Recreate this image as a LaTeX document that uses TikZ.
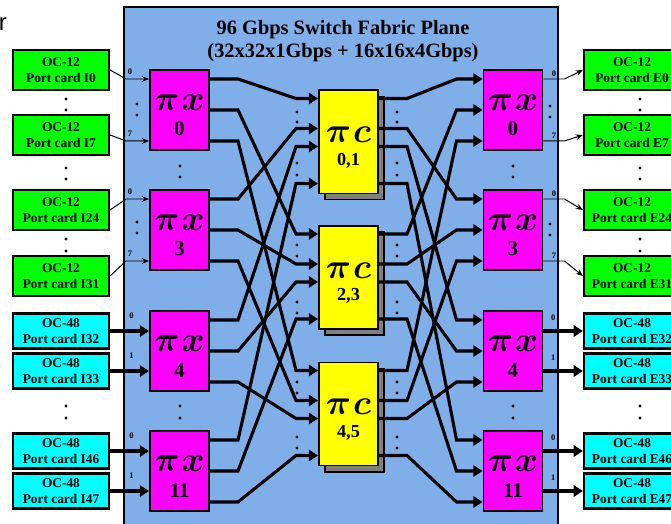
\documentclass[tikz,border=0pt]{standalone}
\usepackage{fontspec}
\setmainfont{Liberation Serif}
\newfontfamily\cutfont{Liberation Sans}
\usetikzlibrary{arrows.meta, calc, shadows}
\definecolor{planeblue}{RGB}{128,174,232}
\definecolor{cardgreen}{RGB}{0,255,0}
\definecolor{cardcyan}{RGB}{0,255,255}
\definecolor{xbarpink}{RGB}{255,0,255}
\definecolor{cbaryellow}{RGB}{255,255,0}
\definecolor{shadowgray}{RGB}{128,128,128}
\newcommand{\stagename}[1]{{\fontsize{24}{24}\selectfont\rule{0pt}{19pt}\boldmath$\pi\mkern1mu #1$}}

\begin{document}
\begin{tikzpicture}[
  x=0.025cm, y=-0.025cm,
  plane/.style={rectangle, draw=black, fill=planeblue, line width=1.4pt, minimum width=10.85cm, minimum height=13.4cm},
  card12/.style={rectangle, draw=black, fill=cardgreen, line width=1.6pt, minimum width=2.4cm, minimum height=1cm, inner sep=0pt, align=center, font=\bfseries\fontsize{9.5}{11.4}\selectfont},
  card48/.style={card12, fill=cardcyan, minimum height=0.875cm},
  xbar/.style={rectangle, draw=black, fill=xbarpink, line width=1.4pt, minimum width=1.475cm, minimum height=2cm, inner sep=0pt, align=center, font=\bfseries\fontsize{15}{18}\selectfont},
  cbar/.style={rectangle, draw=black, fill=cbaryellow, line width=1.4pt, minimum width=1.475cm, minimum height=2.575cm, inner sep=0pt, align=center, font=\bfseries\fontsize{13}{16}\selectfont,
    general shadow={fill=shadowgray, draw=black, line width=1.4pt, shadow xshift=0.15cm, shadow yshift=-0.15cm}},
  wire/.style={line width=2.2pt, -{Triangle[length=6.5pt, width=8pt]}},
  thin_arrow/.style={line width=0.7pt, -{Stealth[length=5pt, width=4pt]}},
  lbl/.style={font=\bfseries\fontsize{6}{6}\selectfont, inner sep=0pt}
]
\useasboundingbox (0,0) rectangle (671,524);
\clip (0,0) rectangle (671,524);

% Plane
\node (plane) [plane] at (341,275) {};
\node (title) [font=\bfseries\fontsize{14.5}{16.4}\selectfont, align=center] at (343,41) {96 Gbps Switch Fabric Plane\\(32x32x1Gbps + 16x16x4Gbps)};
\node (cut) [font=\cutfont\fontsize{17}{17}\selectfont, anchor=base west, inner sep=0pt] at (-1.5,31) {r};

% Ingress port cards
\node (i0) [card12] at (61,70) {OC-12\\Port card I0};
\node (i7) [card12] at (61,135) {OC-12\\Port card I7};
\node (i24) [card12] at (61,210) {OC-12\\Port card I24};
\node (i31) [card12] at (61,276) {OC-12\\Port card I31};
\node (i32) [card48] at (61,331) {OC-48\\Port card I32};
\node (i33) [card48] at (61,371) {OC-48\\Port card I33};
\node (i46) [card48] at (61,451) {OC-48\\Port card I46};
\node (i47) [card48] at (61,491) {OC-48\\Port card I47};

% Egress port cards
\node (e0) [card12] at (632,70) {OC-12\\Port card E0};
\node (e7) [card12] at (632,135) {OC-12\\Port card E7};
\node (e24) [card12] at (632,210) {OC-12\\Port card E24};
\node (e31) [card12] at (632,276) {OC-12\\Port card E31};
\node (e32) [card48] at (632,331) {OC-48\\Port card E32};
\node (e33) [card48] at (632,371) {OC-48\\Port card E33};
\node (e46) [card48] at (632,451) {OC-48\\Port card E46};
\node (e47) [card48] at (632,491) {OC-48\\Port card E47};

% Crossbars
\node (lx0) [xbar] at (179.5,110) {\stagename{x}\\0};
\node (lx3) [xbar] at (179.5,230) {\stagename{x}\\3};
\node (lx4) [xbar] at (179.5,351) {\stagename{x}\\4};
\node (lx11) [xbar] at (179.5,471) {\stagename{x}\\11};
\node (rx0) [xbar] at (513,110) {\stagename{x}\\0};
\node (rx3) [xbar] at (513,230) {\stagename{x}\\3};
\node (rx4) [xbar] at (513,351) {\stagename{x}\\4};
\node (rx11) [xbar] at (513,471) {\stagename{x}\\11};

% Center stage
\node (c01) [cbar] at (348.5,142) {\stagename{c}\\0,1};
\node (c23) [cbar] at (348.5,277.5) {\stagename{c}\\2,3};
\node (c45) [cbar] at (348.5,414) {\stagename{c}\\4,5};

% Ports
\foreach \n in {lx0,lx3,lx4,lx11} {
  \coordinate (\n-a) at ($(\n.north east)+(0,10)$);
  \coordinate (\n-b) at (\n.east);
  \coordinate (\n-c) at ($(\n.south east)+(0,-10)$);
  \coordinate (\n-p) at ($(\n.north west)+(0,10)$);
  \coordinate (\n-q) at ($(\n.south west)+(0,-10)$);
}
\foreach \n in {rx0,rx3,rx4,rx11} {
  \coordinate (\n-a) at ($(\n.north west)+(0,10)$);
  \coordinate (\n-b) at (\n.west);
  \coordinate (\n-c) at ($(\n.south west)+(0,-10)$);
  \coordinate (\n-p) at ($(\n.north east)+(0,10)$);
  \coordinate (\n-q) at ($(\n.south east)+(0,-10)$);
}
\foreach \n in {c01,c23,c45} {
  \foreach \k/\d in {1/9,2/39,3/57,4/94} {
    \coordinate (\n-i\k) at ($(\n.north west)+(0,\d)$);
    \coordinate (\n-o\k) at ($(\n.north east)+(0,\d)$);
  }
}

% Ingress links
\draw [thin_arrow] (i0.east) -- ($(lx0-p)+(-23,0)$) node[lbl, above right, xshift=1pt, yshift=3pt] {0} -- (lx0-p);
\draw [thin_arrow] (i7.east) -- ($(lx0-q)+(-23,0)$) node[lbl, above right, xshift=1pt, yshift=3pt] {7} -- (lx0-q);
\draw [thin_arrow] (i24.east) -- ($(lx3-p)+(-23,0)$) node[lbl, above right, xshift=1pt, yshift=3pt] {0} -- (lx3-p);
\draw [thin_arrow] (i31.east) -- ($(lx3-q)+(-23,0)$) node[lbl, above right, xshift=1pt, yshift=3pt] {7} -- (lx3-q);
\draw [wire] (i32.east) -- (i32.east -| lx4.west) node[lbl, pos=0.55, above=8pt] {0};
\draw [wire] (i33.east) -- (i33.east -| lx4.west) node[lbl, pos=0.55, above=8pt] {1};
\draw [wire] (i46.east) -- (i46.east -| lx11.west) node[lbl, pos=0.55, above=8pt] {0};
\draw [wire] (i47.east) -- (i47.east -| lx11.west) node[lbl, pos=0.55, above=8pt] {1};

% Egress links
\draw [thin_arrow] (rx0-p) -- ++(21,0) node[lbl, midway, above=1.5pt] {0} -- (e0.west);
\draw [thin_arrow] (rx0-q) -- ++(21,0) node[lbl, midway, above=1.5pt] {7} -- (e7.west);
\draw [thin_arrow] (rx3-p) -- ++(21,0) node[lbl, midway, above=1.5pt] {0} -- (e24.west);
\draw [thin_arrow] (rx3-q) -- ++(21,0) node[lbl, midway, above=1.5pt] {7} -- (e31.west);
\draw [wire] (e32.west -| rx4.east) -- (e32.west) node[lbl, pos=0.25, above=6.5pt] {0};
\draw [wire] (e33.west -| rx4.east) -- (e33.west) node[lbl, pos=0.25, above=6.5pt] {1};
\draw [wire] (e46.west -| rx11.east) -- (e46.west) node[lbl, pos=0.25, above=6.5pt] {0};
\draw [wire] (e47.west -| rx11.east) -- (e47.west) node[lbl, pos=0.25, above=6.5pt] {1};

% Fabric wiring
\foreach \s/\k in {lx0/1,lx3/2,lx4/3,lx11/4}
  \foreach \p/\c in {a/c01,b/c23,c/c45}
    \draw [wire] (\s-\p) -- ++(28,0) -- ($(\c-i\k)+(-22,0)$) -- (\c-i\k);
\foreach \d/\k in {rx0/1,rx3/2,rx4/3,rx11/4}
  \foreach \p/\c in {a/c01,b/c23,c/c45}
    \draw [wire] (\c-o\k) -- ++(28,0) -- ($(\d-\p)+(-26,0)$) -- (\d-\p);

% Dots
\foreach \y in {99,110,168,179,239,251,406,418} {
  \fill (66,\y) circle (1.1pt);
  \fill (640,\y) circle (1.1pt);
}
\foreach \y in {104,115,222,233} {
  \fill (137,\y) circle (1.1pt);
  \fill (550,\y+2) circle (1.1pt);
}
\foreach \y in {166,177,406,418} {
  \fill (180,\y) circle (1.1pt);
  \fill (513,\y) circle (1.1pt);
}
\foreach \y in {112,122,163,175,245,256,302,313,382,393,437,448} {
  \fill (297,\y) circle (1.1pt);
  \fill (397,\y) circle (1.1pt);
}

\end{tikzpicture}
\end{document}
